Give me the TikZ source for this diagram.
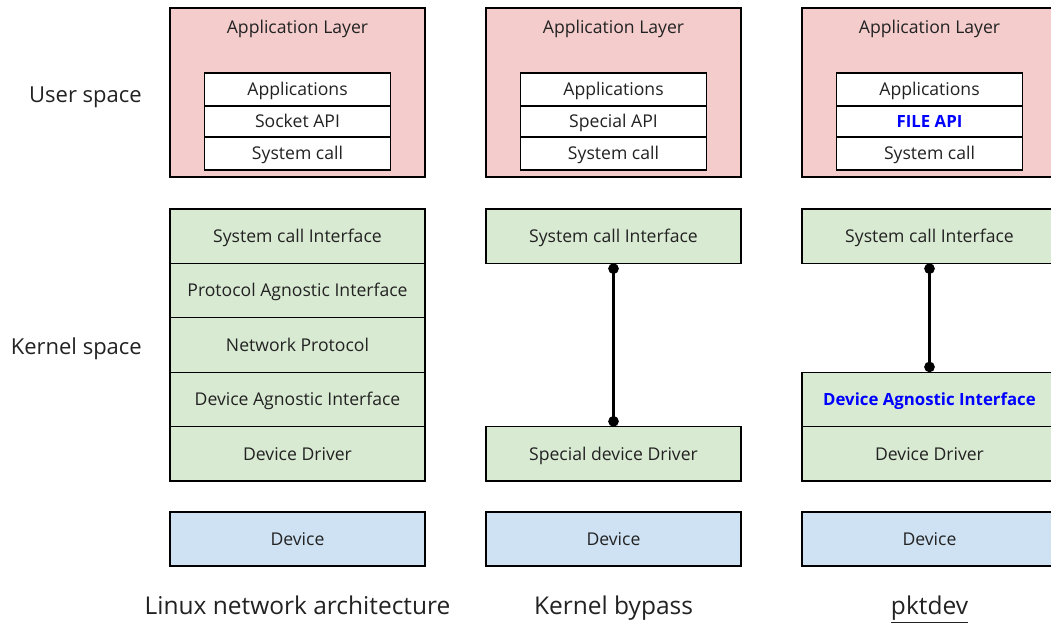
\documentclass[tikz,border=0pt]{standalone}
\usepackage{fontspec}
\setmainfont{Open Sans}
\usetikzlibrary{arrows.meta}
\definecolor{apppink}{HTML}{F4CCCC}
\definecolor{kgreen}{HTML}{D9EAD3}
\definecolor{devblue}{HTML}{CFE2F3}
\definecolor{ink}{HTML}{222222}
\definecolor{hiblue}{HTML}{0000FF}
\tikzset{
  boxfont/.style={font=\fontsize{17.6}{20}\selectfont, text height=12.6pt, text depth=0pt},
  box/.style={draw=black, line width=1.2pt, inner sep=0pt, outer sep=0pt,
    anchor=north, text=ink, boxfont},
  appbox/.style={box, fill=apppink, minimum width=255pt, minimum height=169pt},
  rowbox/.style={box, fill=white, minimum width=186pt},
  kbox/.style={box, fill=kgreen, minimum width=255pt, minimum height=54.4pt},
  devbox/.style={box, fill=devblue, minimum width=255pt, minimum height=54pt},
  hilite/.style={text=hiblue, font=\fontsize{16.8}{20}\selectfont\bfseries},
  plain/.style={text=ink, inner sep=0pt, boxfont},
  side/.style={text=ink, inner sep=0pt, font=\fontsize{22}{26}\selectfont,
    text height=15.7pt, text depth=0pt},
  caption/.style={text=ink, inner sep=0pt, font=\fontsize{24.5}{28}\selectfont,
    text height=17.5pt, text depth=0pt},
  link/.style={line width=2.5pt, {Circle[length=10.5pt]}-{Circle[length=10.5pt]}}
}
\begin{document}
\begin{tikzpicture}[x=1pt, y=-1pt]
\useasboundingbox (0,0) rectangle (1051,623);
\clip (0,0) rectangle (1051,623);

% side labels
\node[side, anchor=east] (us) at (142,95) {User space};
\node[side, anchor=east] (ks) at (142,347) {Kernel space};

% ---- column 1: Linux network architecture
\node[appbox] (a1) at (297.5,8) {};
\node[plain] (a1t) at (297.5,27) {Application Layer};
\node[rowbox, minimum height=33pt] (a1r1) at (297.5,73) {Applications};
\node[rowbox, minimum height=31pt] (a1r2) at (297.5,106) {Socket API};
\node[rowbox, minimum height=33pt] (a1r3) at (297.5,137) {System call};
\node[kbox] (k1a) at (297.5,209) {System call Interface};
\node[kbox] (k1b) at (297.5,263.4) {Protocol Agnostic Interface};
\node[kbox] (k1c) at (297.5,317.8) {Network Protocol};
\node[kbox] (k1d) at (297.5,372.2) {Device Agnostic Interface};
\node[kbox] (k1e) at (297.5,426.6) {Device Driver};
\node[devbox] (d1) at (297.5,512) {Device};
\node[caption] (t1) at (297.5,606) {Linux network architecture};

% ---- column 2: Kernel bypass
\node[appbox] (a2) at (613.5,8) {};
\node[plain] (a2t) at (613.5,27) {Application Layer};
\node[rowbox, minimum height=33pt] (a2r1) at (613.5,73) {Applications};
\node[rowbox, minimum height=31pt] (a2r2) at (613.5,106) {Special API};
\node[rowbox, minimum height=33pt] (a2r3) at (613.5,137) {System call};
\node[kbox] (k2a) at (613.5,209) {System call Interface};
\node[kbox] (k2e) at (613.5,426.6) {Special device Driver};
\node[devbox] (d2) at (613.5,512) {Device};
\node[caption] (t2) at (613.5,606) {Kernel bypass};
\draw[link] (k2a.south) -- (k2e.north);

% ---- column 3: pktdev
\node[appbox] (a3) at (929.5,8) {};
\node[plain] (a3t) at (929.5,27) {Application Layer};
\node[rowbox, minimum height=33pt] (a3r1) at (929.5,73) {Applications};
\node[rowbox, minimum height=31pt, hilite] (a3r2) at (929.5,106) {FILE API};
\node[rowbox, minimum height=33pt] (a3r3) at (929.5,137) {System call};
\node[kbox] (k3a) at (929.5,209) {System call Interface};
\node[kbox, hilite] (k3d) at (929.5,372.2) {Device Agnostic Interface};
\node[kbox] (k3e) at (929.5,426.6) {Device Driver};
\node[devbox] (d3) at (929.5,512) {Device};
\node[caption] (t3) at (929.5,606) {\underline{pktdev}};
\draw[link] (k3a.south) -- (k3d.north);
\end{tikzpicture}
\end{document}
